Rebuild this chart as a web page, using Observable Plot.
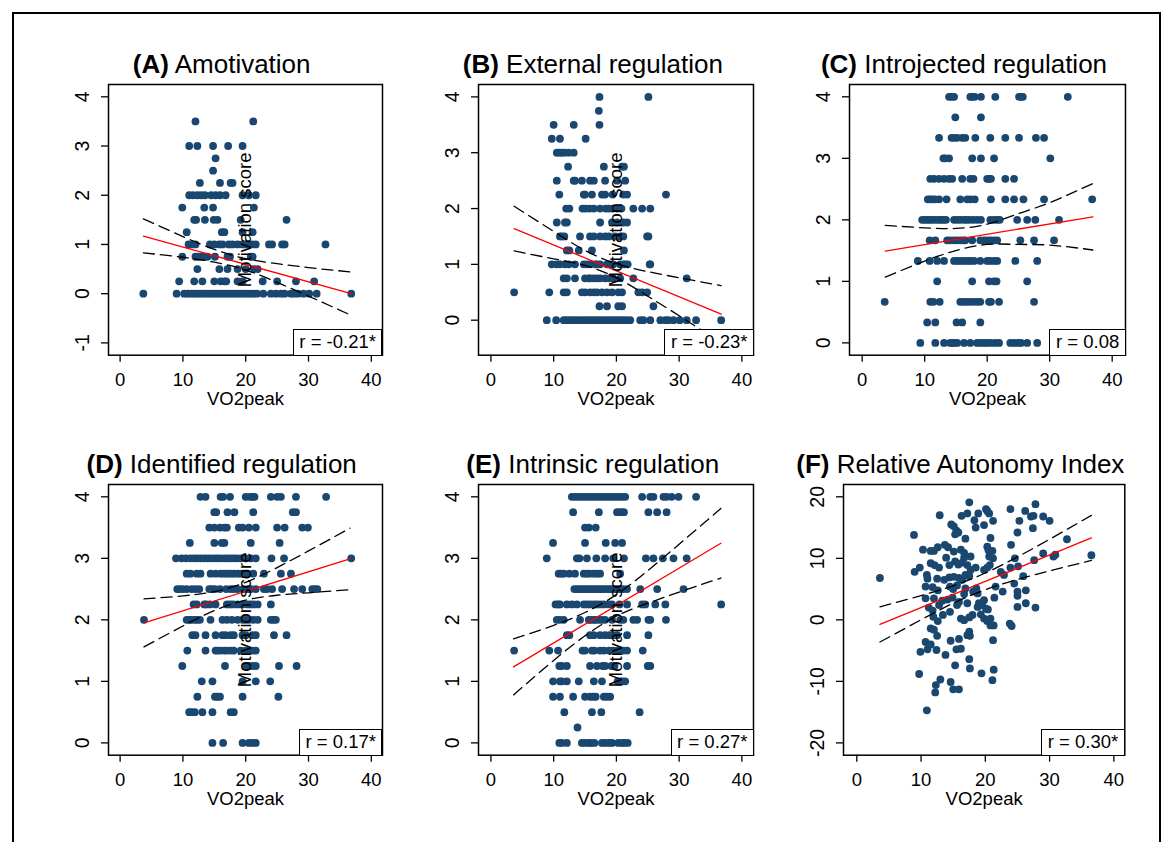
<!DOCTYPE html>
<html><head><meta charset="utf-8">
<script src="https://cdn.jsdelivr.net/npm/d3@7"></script>
<script src="https://cdn.jsdelivr.net/npm/@observablehq/plot@0.6"></script>
<style>
body{margin:0;background:#fff;}
#wrap{position:relative;width:1165px;height:842px;overflow:hidden;background:#fff;font-family:"Liberation Sans",Arial,sans-serif;color:#000;}
.outer{position:absolute;left:12px;top:12px;width:1149px;height:850px;border:2px solid #000;box-sizing:border-box;}
.title{position:absolute;white-space:nowrap;font-size:26px;line-height:26px;transform:translateX(-50%);}
.rbox{position:absolute;background:#fff;border:1.5px solid #000;box-sizing:border-box;height:27px;padding:0 5.5px;font-size:18.5px;line-height:24px;white-space:nowrap;}
</style></head>
<body><div id="wrap"><div class="outer"></div></div>
<script>
// ---------- DATA ----------
const xTicks = [0, 10, 20, 30, 40];

// rows: [motivation score, [VO2peak values]]
const amotivationRows = [
 [3.5, [12.0, 21.2]],
 [3.0, [11.0, 12.3, 14.8, 17.2, 19.5]],
 [2.75, [15.2]],
 [2.5, [14.8]],
 [2.25, [12.7, 15.9, 17.6, 17.9]],
 [2.0, [11.0, 11.6, 12.3, 12.9, 13.5, 14.5, 15.2, 15.9, 16.8, 19.5, 20.5, 21.6]],
 [1.75, [9.9, 13.4, 14.8, 21.3]],
 [1.5, [11.8, 12.1, 13.5, 14.9, 15.5, 19.2, 26.5]],
 [1.25, [10.6, 16.2, 16.6, 19.5, 21.1]],
 [1.0, [10.9, 11.4, 12.0, 14.3, 15.0, 15.8, 16.3, 17.3, 17.9, 18.7, 19.5, 20.0, 20.5, 21.1, 21.6, 23.7, 24.2, 25.8, 26.2, 32.7]],
 [0.75, [9.9, 12.0, 12.4, 12.8, 13.4, 13.9, 15.1, 17.1, 17.5, 20.8, 21.1]],
 [0.5, [12.3, 15.8, 17.1, 18.7, 20.0, 21.3, 21.9]],
 [0.25, [9.4, 11.8, 13.1, 15.0, 16.0, 16.6, 16.9, 18.7, 19.5, 22.7, 25.0, 28.0, 30.9]],
 [0, [3.7, 9.0, 10.2, 10.8, 11.3, 11.8, 12.3, 12.8, 13.3, 13.8, 14.3, 14.8, 15.3, 15.8, 16.3, 16.8, 17.3, 17.8, 18.3, 18.8, 19.3, 19.8, 20.3, 20.8, 21.3, 21.8, 22.8, 24.0, 24.8, 25.6, 26.2, 27.2, 27.7, 28.3, 29.2, 30.1, 31.3, 36.8]]
];
const externalRows = [
 [4, [17.3, 25.1]],
 [3.75, [17.2]],
 [3.5, [10.0, 13.2, 17.3]],
 [3.25, [9.7, 11.0, 15.1]],
 [3.0, [10.5, 10.9, 11.3, 11.7, 12.4, 13.2]],
 [2.75, [12.3, 18.0, 20.9, 21.2]],
 [2.5, [10.5, 13.2, 13.4, 14.5, 15.8, 16.4, 18.2, 20.1, 21.4]],
 [2.25, [10.9, 14.8, 15.0, 16.1, 17.7, 18.2, 19.4, 21.1, 21.7, 27.9]],
 [2.0, [12.0, 12.5, 14.6, 15.1, 15.7, 16.4, 17.4, 18.3, 18.8, 19.4, 20.1, 20.8, 22.7, 24.1, 25.4]],
 [1.75, [10.5, 11.8, 12.1, 17.4, 19.3, 20.1, 21.1, 21.7]],
 [1.5, [11.0, 11.3, 11.7, 14.2, 15.8, 16.4, 17.4, 18.2, 18.8, 19.8, 20.6, 21.1, 24.9, 25.1]],
 [1.25, [12.1, 12.5, 14.0, 16.1, 21.2]],
 [1.0, [9.7, 10.5, 11.0, 11.8, 12.4, 13.4, 14.8, 15.3, 15.8, 16.6, 16.9, 17.4, 18.5, 19.0, 19.5, 20.6, 21.1, 21.4, 21.8, 25.3, 25.4]],
 [0.75, [11.6, 12.1, 13.4, 15.0, 15.6, 15.8, 16.4, 16.9, 17.4, 18.2, 18.8, 19.5, 20.6, 22.7, 31.2]],
 [0.5, [3.7, 9.3, 11.6, 12.1, 14.5, 15.0, 15.8, 16.4, 16.9, 17.7, 18.5, 19.3, 20.3, 20.9, 23.5, 24.1, 24.9]],
 [0.25, [17.3, 18.5, 20.3, 20.9, 25.9]],
 [0, [8.9, 10.4, 11.6, 12.1, 12.6, 13.1, 13.6, 14.1, 14.6, 15.1, 15.6, 16.1, 16.6, 17.1, 17.6, 18.1, 18.6, 19.1, 19.6, 20.1, 20.6, 21.1, 21.6, 22.2, 23.8, 24.3, 25.4, 27.0, 27.8, 28.3, 29.1, 30.1, 31.2, 32.7, 36.7]]
];
const introjectedRows = [
 [4, [13.9, 14.3, 14.7, 17.3, 17.6, 18.0, 19.0, 21.3, 25.1, 25.4, 25.7, 32.9]],
 [3.667, [14.9, 19.0]],
 [3.333, [12.3, 14.3, 14.7, 15.2, 16.0, 16.5, 18.1, 20.5, 22.9, 25.1, 27.8, 29.1]],
 [3.0, [13.0, 13.3, 13.9, 17.6, 19.0, 21.1, 30.1]],
 [2.667, [10.9, 11.5, 12.3, 13.1, 13.9, 14.4, 16.0, 17.3, 17.8, 20.0, 20.3, 20.6, 22.9, 24.3]],
 [2.333, [10.5, 10.8, 11.2, 11.6, 12.3, 13.5, 15.7, 16.8, 17.3, 18.0, 20.6, 22.9, 24.3, 25.8, 29.1, 36.8]],
 [2.0, [9.6, 10.0, 10.4, 10.8, 11.2, 11.7, 12.2, 12.6, 13.0, 13.4, 14.7, 15.2, 15.7, 16.3, 16.7, 17.2, 17.8, 18.4, 19.0, 20.5, 21.1, 21.6, 22.0, 24.8, 26.4, 27.7, 31.5]],
 [1.667, [10.8, 11.7, 13.6, 14.1, 14.7, 15.2, 15.7, 16.2, 16.5, 17.6, 18.9, 19.5, 20.0, 20.5, 21.1, 21.6, 25.3, 27.5, 30.7]],
 [1.333, [8.9, 10.8, 12.0, 13.1, 14.7, 15.2, 15.7, 16.3, 16.8, 17.3, 17.9, 18.9, 20.0, 20.5, 21.1, 21.6, 24.5, 28.0]],
 [1.0, [12.0, 17.6, 20.3, 21.1, 21.5, 26.4]],
 [0.667, [3.6, 10.9, 11.4, 12.4, 15.7, 16.2, 16.7, 17.2, 17.8, 18.4, 18.9, 20.3, 20.6, 21.9, 27.5]],
 [0.333, [10.4, 11.7, 15.1, 16.0, 18.9]],
 [0, [9.3, 11.7, 13.1, 14.1, 14.4, 14.7, 15.2, 16.3, 17.3, 18.4, 18.9, 19.5, 20.0, 20.6, 21.3, 21.9, 23.7, 24.3, 24.9, 25.4, 26.4, 28.0]]
];
const identifiedRows = [
 [4, [12.8, 13.6, 16.0, 16.4, 17.5, 20.0, 20.7, 21.1, 21.4, 24.0, 25.0, 25.6, 28.0, 32.8]],
 [3.75, [15.0, 15.3, 17.1, 18.2, 21.2, 27.5, 28.0]],
 [3.5, [14.2, 15.0, 15.9, 16.6, 17.0, 18.9, 19.5, 20.5, 21.6, 25.0, 26.2, 29.0, 29.9]],
 [3.25, [11.1, 15.0, 16.2, 16.6, 20.8, 25.4]],
 [3.0, [8.9, 9.8, 10.5, 11.2, 11.8, 12.3, 12.8, 13.4, 13.9, 14.4, 15.0, 15.5, 16.0, 16.6, 17.1, 17.6, 18.1, 18.6, 19.2, 20.0, 20.8, 21.6, 24.1, 26.1, 36.8]],
 [2.75, [10.6, 11.2, 12.2, 12.8, 14.4, 15.2, 16.0, 16.6, 17.1, 17.6, 18.1, 18.7, 19.2, 19.6, 20.3, 21.2, 22.9, 25.6, 27.2]],
 [2.5, [9.1, 9.5, 10.0, 10.6, 11.4, 12.0, 12.6, 14.2, 14.6, 15.1, 15.9, 16.9, 17.6, 18.1, 18.7, 19.6, 20.3, 20.8, 21.6, 22.9, 23.4, 24.2, 25.8, 27.7, 29.0, 30.6, 31.0, 31.4]],
 [2.25, [11.7, 12.2, 13.4, 13.7, 14.3, 15.2, 17.0, 17.5, 18.0, 18.7, 19.5, 20.3, 20.8, 21.3, 21.9, 24.0]],
 [2.0, [3.8, 10.6, 11.0, 11.4, 11.9, 12.3, 12.7, 14.4, 16.3, 17.0, 17.8, 18.7, 19.5, 20.0, 20.5, 21.2, 21.9, 24.0, 24.4, 24.8]],
 [1.75, [11.5, 12.0, 13.6, 15.2, 16.3, 16.8, 17.6, 18.1, 19.5, 20.0, 21.1, 21.6, 24.5, 26.5]],
 [1.5, [10.7, 13.6, 15.2, 15.6, 16.0, 16.6, 17.0, 17.6, 18.1, 19.2, 20.0, 20.5, 21.1, 21.6]],
 [1.25, [9.9, 16.7, 20.0, 20.5, 21.1, 21.6, 25.3, 28.1]],
 [1.0, [13.0, 14.7, 19.5, 21.6, 23.9]],
 [0.75, [12.3, 15.1, 15.5, 15.9, 19.5, 25.2]],
 [0.5, [11.0, 11.4, 11.9, 13.1, 14.7, 17.6, 18.1]],
 [0, [14.7, 16.4, 19.5, 20.5, 21.1, 21.6]]
];
const intrinsicRows = [
 [4, [12.9, 13.4, 13.9, 14.4, 14.9, 15.4, 15.9, 16.4, 16.9, 17.4, 17.9, 18.4, 18.9, 19.4, 19.9, 20.4, 20.9, 21.4, 24.1, 25.4, 25.9, 27.5, 28.0, 28.8, 29.9, 32.7]],
 [3.75, [13.1, 17.2, 20.1, 20.5, 20.9, 21.2, 25.1, 26.5, 28.0]],
 [3.5, [15.0, 15.6, 16.7]],
 [3.25, [9.9, 15.0, 18.3, 19.8, 20.9]],
 [3.0, [8.9, 13.7, 14.1, 15.3, 16.8, 18.2, 19.5, 21.2, 24.7, 25.9, 27.4, 29.1, 31.2]],
 [2.75, [10.8, 11.2, 11.6, 12.5, 13.4, 14.8, 15.3, 15.7, 16.4, 16.9, 17.4, 20.6]],
 [2.5, [13.3, 13.7, 14.1, 14.5, 14.9, 15.3, 15.7, 16.1, 16.5, 16.9, 17.3, 17.7, 18.1, 18.5, 18.9, 19.3, 19.8, 20.2, 20.6, 21.1, 21.7, 23.8, 26.5, 30.7]],
 [2.25, [10.3, 10.7, 11.0, 12.1, 12.9, 13.7, 14.8, 15.3, 15.8, 16.4, 16.9, 17.4, 18.0, 18.8, 19.3, 20.5, 21.7, 24.1, 24.6, 26.2, 27.8, 36.7]],
 [2.0, [10.5, 11.0, 11.6, 14.2, 15.6, 15.9, 16.4, 16.7, 17.2, 17.7, 18.2, 19.3, 20.6, 21.1, 22.7, 23.3, 25.1, 25.4, 27.9]],
 [1.75, [12.1, 12.5, 15.8, 16.4, 17.4, 18.2, 18.9, 19.4, 20.1, 21.7, 25.1]],
 [1.5, [3.7, 9.3, 10.7, 14.6, 15.0, 16.1, 16.5, 17.4, 18.0, 18.8, 19.4, 20.1, 20.6, 21.1, 21.7, 24.2]],
 [1.25, [10.9, 11.3, 12.1, 15.8, 16.9, 17.8, 18.2, 19.2, 19.7, 21.7, 25.0, 25.4]],
 [1.0, [9.9, 11.0, 11.3, 12.1, 14.0, 16.4, 17.7, 20.2, 20.6, 21.0, 21.4]],
 [0.75, [9.9, 11.0, 13.1, 15.0, 15.8, 16.3, 16.7, 18.0, 18.5, 19.0]],
 [0.5, [11.7, 16.1, 17.6, 23.7]],
 [0.25, [13.8]],
 [0, [10.9, 11.3, 12.1, 14.5, 15.0, 15.6, 15.9, 16.5, 17.7, 18.2, 18.8, 19.3, 20.3, 20.9, 21.2, 21.8]]
];
// Relative Autonomy Index: [VO2peak, RAI]
const raiPoints = [
 [3.6,6.8],[8.9,13.8],[12.9,17.0],[17.5,19.1],[16.3,16.9],[17.2,17.3],[18.9,17.3],[18.3,16.2],[20.1,18.0],[20.3,17.7],
 [20.6,17.3],[21.2,16.1],[19.8,15.4],[18.5,15.0],[23.9,18.0],[26.2,17.7],[27.1,16.8],[27.8,18.8],[27.5,16.9],[29.0,16.8],
 [30.0,16.1],[25.3,16.1],[25.0,14.2],[27.4,14.9],[24.0,12.2],[14.7,15.5],[15.1,15.2],[15.5,14.5],[15.3,13.9],[15.8,14.2],
 [16.9,13.2],[10.3,11.4],[11.5,11.2],[12.0,11.2],[12.6,11.8],[13.7,12.2],[14.2,11.8],[15.1,11.1],[16.2,11.4],[16.7,10.9],
 [17.7,10.3],[16.7,10.1],[9.0,7.8],[9.8,8.5],[11.5,9.2],[12.1,8.9],[12.8,8.5],[13.9,10.1],[14.4,8.9],[15.3,9.5],
 [15.8,9.0],[16.4,9.3],[17.2,8.9],[17.7,8.1],[18.5,8.5],[19.8,8.1],[20.3,8.5],[20.7,8.9],[20.6,10.3],[21.1,11.2],
 [20.3,11.9],[20.8,13.3],[21.2,10.0],[20.5,11.3],[10.9,7.3],[11.0,6.7],[12.5,6.7],[13.6,6.5],[14.4,6.9],[15.1,7.0],
 [15.9,6.8],[16.4,6.5],[16.9,7.3],[17.5,7.1],[22.4,7.8],[22.9,7.3],[23.9,8.5],[24.6,10.0],[25.1,8.7],[25.9,7.1],
 [27.6,9.7],[29.0,10.8],[30.6,10.3],[30.9,10.6],[32.7,13.1],[36.5,10.5],[10.7,5.4],[11.8,5.3],[12.6,4.8],[14.5,5.4],
 [15.0,5.0],[15.6,5.6],[16.9,5.1],[18.6,5.1],[18.8,4.3],[19.8,3.2],[19.0,2.7],[21.6,5.4],[22.7,4.6],[24.5,5.9],
 [25.0,4.6],[26.3,4.8],[25.0,3.9],[25.0,2.1],[26.3,2.7],[27.8,2.0],[21.4,3.6],[10.7,3.5],[12.0,3.5],[13.3,3.1],
 [14.1,3.3],[14.9,3.6],[15.9,2.9],[16.7,4.2],[18.1,4.6],[11.2,2.0],[11.8,1.5],[12.8,2.4],[13.4,0.8],[14.5,1.3],
 [15.6,2.4],[17.2,2.7],[18.8,2.1],[19.5,2.4],[20.1,1.8],[20.4,1.7],[11.9,0.5],[12.6,-0.2],[11.5,-1.4],[12.0,-1.6],
 [16.2,0.2],[16.7,-0.05],[17.5,0.4],[18.0,0.8],[19.3,0.9],[19.8,0.2],[20.3,-0.2],[20.8,-0.9],[21.3,-0.9],[20.8,0.2],
 [23.8,-0.6],[24.1,-1.0],[17.5,-1.9],[17.2,-2.5],[17.6,-2.6],[15.9,-3.1],[14.6,-3.4],[12.5,-2.6],[10.7,-3.6],[11.5,-4.0],
 [11.0,-4.8],[9.9,-5.2],[12.4,-4.9],[13.8,-5.7],[15.5,-4.8],[16.2,-4.7],[21.2,-3.3],[15.3,-7.4],[17.5,-6.4],[17.6,-7.9],
 [19.4,-8.7],[21.3,-8.1],[21.1,-9.8],[9.7,-8.8],[13.0,-9.7],[12.3,-10.6],[12.2,-11.8],[14.6,-10.1],[15.0,-11.3],[15.9,-11.3],
 [10.9,-14.7]
];

// fitted lines (end points) and 95% CI bounds
const fitA = [[3.7, 1.17], [36.8, 0.0]];
const ciA_x = [3.7, 10, 15, 20, 25, 30, 36.8];
const ciA_upper = [1.52, 1.16, 0.90, 0.71, 0.61, 0.53, 0.44];
const ciA_lower = [0.83, 0.74, 0.64, 0.48, 0.23, -0.05, -0.44];

const fitB = [[3.7, 1.64], [36.7, 0.107]];
const ciB_x = [3.7, 10, 15, 20, 25, 30, 36.7];
const ciB_upper = [2.04, 1.59, 1.25, 1.01, 0.87, 0.76, 0.62];
const ciB_lower = [1.24, 1.10, 0.98, 0.76, 0.43, 0.08, -0.41];

const fitC = [[3.7, 1.49], [36.9, 2.05]];
const ciC_x = [3.7, 10, 15, 20, 25, 30, 36.9];
const ciC_upper = [1.91, 1.87, 1.86, 1.93, 2.10, 2.28, 2.59];
const ciC_lower = [1.07, 1.33, 1.50, 1.60, 1.60, 1.59, 1.51];

const fitD = [[3.8, 1.95], [36.6, 2.99]];
const ciD_x = [3.8, 10, 15, 20, 25, 30, 36.6];
const ciD_upper = [2.34, 2.39, 2.46, 2.61, 2.85, 3.12, 3.49];
const ciD_lower = [1.56, 1.90, 2.15, 2.32, 2.40, 2.44, 2.49];

const fitE = [[3.6, 1.236], [36.65, 3.245]];
const ciE_x = [3.6, 10, 15, 20, 25, 30, 36.65];
const ciE_upper = [1.69, 1.91, 2.12, 2.41, 2.80, 3.23, 3.81];
const ciE_lower = [0.78, 1.34, 1.74, 2.06, 2.27, 2.45, 2.68];

const fitF = [[3.6, -0.75], [36.5, 13.32]];
const ciF_x = [3.6, 10, 15, 20, 25, 30, 36.5];
const ciF_upper = [2.1, 3.94, 5.53, 7.61, 10.23, 13.10, 16.98];
const ciF_lower = [-3.6, 0.01, 2.70, 4.90, 6.56, 7.97, 9.66];

const letters = ["(A)", "(B)", "(C)", "(D)", "(E)", "(F)"];
const titles = ["Amotivation", "External regulation", "Introjected regulation", "Identified regulation", "Intrinsic regulation", "Relative Autonomy Index"];
const rLabels = ["r = -0.21*", "r = -0.23*", "r = 0.08", "r = 0.17*", "r = 0.27*", "r = 0.30*"];
const motivYTicks = [0, 1, 2, 3, 4];
const amotivYTicks = [-1, 0, 1, 2, 3, 4];
const raiYTicks = [-20, -10, 0, 10, 20];

// ---------- LAYOUT ----------
const fromRows = rows => rows.flatMap(([y, xs]) => xs.map(x => ({x, y})));
const fromPairs = ps => ps.map(([x, y]) => ({x, y}));
const panels = [
 {pts: fromRows(amotivationRows), fit: fitA, cx: ciA_x, cu: ciA_upper, cl: ciA_lower, ylab: true, yticks: amotivYTicks,
  left: 107.7, top: 84.3, w: 274, h: 270.7, xdom: [-1.85, 41.78], ydom: [-1.25, 4.25]},
 {pts: fromRows(externalRows), fit: fitB, cx: ciB_x, cu: ciB_upper, cl: ciB_lower, ylab: true, yticks: motivYTicks,
  left: 478.3, top: 84.3, w: 275, h: 270.7, xdom: [-1.98, 41.85], ydom: [-0.627, 4.222]},
 {pts: fromRows(introjectedRows), fit: fitC, cx: ciC_x, cu: ciC_upper, cl: ciC_lower, ylab: false, yticks: motivYTicks,
  left: 849, top: 84.3, w: 276, h: 270.7, xdom: [-2.03, 42.13], ydom: [-0.2, 4.2]},
 {pts: fromRows(identifiedRows), fit: fitD, cx: ciD_x, cu: ciD_upper, cl: ciD_lower, ylab: true, yticks: motivYTicks,
  left: 107.7, top: 484.3, w: 274, h: 270.7, xdom: [-1.85, 41.78], ydom: [-0.2, 4.2]},
 {pts: fromRows(intrinsicRows), fit: fitE, cx: ciE_x, cu: ciE_upper, cl: ciE_lower, ylab: true, yticks: motivYTicks,
  left: 478.3, top: 484.3, w: 275, h: 270.7, xdom: [-1.98, 41.85], ydom: [-0.2, 4.2]},
 {pts: fromPairs(raiPoints), fit: fitF, cx: ciF_x, cu: ciF_upper, cl: ciF_lower, ylab: false, yticks: raiYTicks,
  left: 842.7, top: 484.3, w: 281.3, h: 270.7, xdom: [-2.07, 41.70], ydom: [-22, 22]}
];

const wrap = document.getElementById("wrap");
const fmt = d => d < 0 ? "-" + (-d) : String(d);
const FS = 18.5;

panels.forEach((p, i) => {
  const ml = 50, mr = 12, mt = 12, mb = 62;
  const up = p.cx.map((x, k) => ({x, y: p.cu[k]}));
  const lo = p.cx.map((x, k) => ({x, y: p.cl[k]}));
  const fit = fromPairs(p.fit);
  const marks = [
    Plot.dot(p.pts, {x: "x", y: "y", r: 3.9, fill: "#1a476f", stroke: "none"}),
    Plot.line(up, {x: "x", y: "y", stroke: "#000", strokeWidth: 1.3, strokeDasharray: "11,6", curve: "natural"}),
    Plot.line(lo, {x: "x", y: "y", stroke: "#000", strokeWidth: 1.3, strokeDasharray: "11,6", curve: "natural"}),
    Plot.line(fit, {x: "x", y: "y", stroke: "#ff0000", strokeWidth: 1.3}),
    Plot.frame({stroke: "#000", strokeWidth: 1.5}),
    Plot.axisX({ticks: xTicks, tickSize: 7, tickPadding: 11, label: null, fontSize: FS, strokeWidth: 1.3, tickFormat: fmt}),
    Plot.axisY({ticks: p.yticks, tickSize: 7, tickPadding: 13, tickRotate: -90, label: null, fontSize: 19.5, strokeWidth: 1.3, tickFormat: fmt}),
    Plot.text(["VO2peak"], {text: d => d, frameAnchor: "bottom", lineAnchor: "middle", dy: 44, fontSize: FS, fill: "#000"})
  ];
  if (p.ylab) marks.push(Plot.text(["Motivation score"], {text: d => d, frameAnchor: "middle", rotate: -90, fontSize: FS, fill: "#000"}));
  const svg = Plot.plot({
    width: p.w + ml + mr, height: p.h + mt + mb,
    marginLeft: ml, marginRight: mr, marginTop: mt, marginBottom: mb,
    x: {domain: p.xdom}, y: {domain: p.ydom},
    style: {fontFamily: "'Liberation Sans', Arial, sans-serif", fontSize: FS + "px", background: "transparent", color: "#000", overflow: "visible"},
    marks
  });
  svg.style.position = "absolute";
  svg.style.left = (p.left - ml) + "px";
  svg.style.top = (p.top - mt) + "px";
  wrap.appendChild(svg);

  const t = document.createElement("div");
  t.className = "title";
  t.innerHTML = "<b>" + letters[i] + "</b> " + titles[i];
  t.style.left = (p.left + p.w / 2 - 23) + "px";
  t.style.top = (p.top - 11 - 22) + "px";
  wrap.appendChild(t);

  const rb = document.createElement("div");
  rb.className = "rbox";
  rb.textContent = rLabels[i];
  rb.style.right = (1165 - (p.left + p.w + 0.75)) + "px";
  rb.style.bottom = (842 - (p.top + p.h + 0.75)) + "px";
  wrap.appendChild(rb);
});
</script></body></html>
